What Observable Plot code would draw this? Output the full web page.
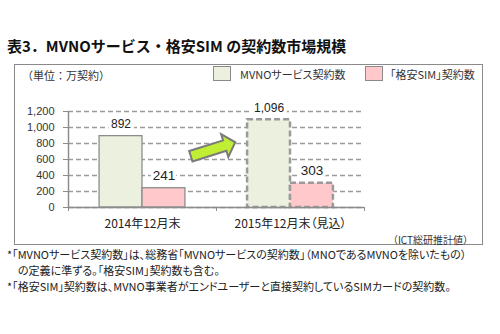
<!DOCTYPE html>
<html>
<head>
<meta charset="utf-8">
<script src="https://cdn.jsdelivr.net/npm/d3@7"></script>
<script src="https://cdn.jsdelivr.net/npm/@observablehq/plot@0.6"></script>
<style>
  body {
    margin: 0;
    width: 500px;
    height: 334px;
    position: relative;
    overflow: hidden;
    background: #fff;
    color: #222;
    font-family: "Noto Sans CJK JP", "Noto Sans", sans-serif;
    font-feature-settings: "palt";
  }
  .abs { position: absolute; white-space: nowrap; }
  #title { left: 7px; top: 36px; font-size: 15px; font-weight: bold; line-height: 20px; color: #111; font-feature-settings: normal; }
  #frame { left: 14px; top: 64px; width: 467px; height: 179px; border: 1.5px solid #8a8a8a; }
  #unit { left: 22px; top: 67px; font-size: 11px; line-height: 16px; color: #333; font-feature-settings: normal; }
  .swatch { width: 16px; height: 13px; border: 1.5px solid #8a8a8a; top: 66px; }
  .legend-text { top: 66px; font-size: 11px; line-height: 16px; color: #333; }
  #chart { left: 0; top: 88px; }
  #source { right: 27px; top: 232px; font-size: 10px; line-height: 16px; color: #333; font-feature-settings: normal; }
  #notes { left: 7px; top: 246px; font-size: 11px; line-height: 16px; color: #222; }
</style>
</head>
<body>
<div id="title" class="abs"></div>
<div id="frame" class="abs"></div>
<div id="unit" class="abs"></div>
<div id="legend"></div>
<div id="chart" class="abs"></div>
<div id="source" class="abs"></div>
<div id="notes" class="abs"></div>
<script>
// Contract counts (10k contracts), end of each year
const years = ["2014年12月末", "2015年12月末（見込）"];
const estimated = [false, true];
const seriesNames = ["MVNOサービス契約数", "「格安SIM」契約数"];
const mvnoContracts = [892, 1096];
const cheapSimContracts = [241, 303];
const yTicks = [0, 200, 400, 600, 800, 1000, 1200];
const seriesColors = ["#ebf1de", "#ffc9cc"];

const titleText = "表3．MVNOサービス・格安SIM の契約数市場規模";
const unitText = "（単位：万契約）";
const sourceText = "（ICT総研推計値）";
const noteLines = [
  "*「MVNOサービス契約数」は、総務省「MVNOサービスの契約数」（MNOであるMVNOを除いたもの）",
  "\u3000の定義に準ずる。「格安SIM」契約数も含む。",
  "*「格安SIM」契約数は、MVNO事業者がエンドユーザーと直接契約しているSIMカードの契約数。"
];

// Growth arrow between the two years: position inside each year band and value
const growth = {
  from: {year: years[0], at: 0.83, value: 634},
  to: {year: years[1], at: 0.13, value: 809}
};

const rows = years.flatMap((year, i) => [
  {year, series: seriesNames[0], value: mvnoContracts[i], estimated: estimated[i]},
  {year, series: seriesNames[1], value: cheapSimContracts[i], estimated: estimated[i]}
]);

// Static text
document.getElementById("title").textContent = titleText;
document.getElementById("unit").textContent = unitText;
document.getElementById("source").textContent = sourceText;
document.getElementById("notes").innerHTML = noteLines.map(l => `<div>${l}</div>`).join("");

const legend = document.getElementById("legend");
const legendX = [[213, 240], [365, 390]];
seriesNames.forEach((name, i) => {
  const sw = document.createElement("div");
  sw.className = "abs swatch";
  sw.style.left = legendX[i][0] + "px";
  sw.style.background = seriesColors[i];
  legend.appendChild(sw);
  const tx = document.createElement("div");
  tx.className = "abs legend-text";
  tx.style.left = legendX[i][1] + "px";
  tx.textContent = name;
  legend.appendChild(tx);
});

// Layout of the grouped bars inside each year band
const W = 380, H = 150, ML = 68, MR = 16, MT = 23, MB = 31;
const step = (W - ML - MR) / years.length;
const outer = step * 0.21;
const barW = step * 0.29;
const barOffset = [
  {insetLeft: outer, insetRight: step - outer - barW},
  {insetLeft: outer + barW, insetRight: outer}
];
const labelDx = [outer + barW / 2 - step / 2, outer + barW * 1.5 - step / 2];
const labelStyle = [{fontSize: 12, dy: -12}, {fontSize: 13.5, dy: -13}];

const barMarks = [];
seriesNames.forEach((name, i) => {
  for (const est of [false, true]) {
    barMarks.push(Plot.barY(rows.filter(d => d.series === name && d.estimated === est), {
      x: "year",
      y: "value",
      fill: seriesColors[i],
      stroke: est ? "#9a9a9a" : "#8c8c8c",
      strokeWidth: est ? 2.5 : 1.3,
      strokeDasharray: est ? "6,3" : null,
      ...barOffset[i]
    }));
  }
});

const labelMarks = seriesNames.map((name, i) =>
  Plot.text(rows.filter(d => d.series === name), {
    x: "year",
    y: "value",
    text: d => d3.format(",")(d.value),
    dx: labelDx[i],
    dy: labelStyle[i].dy,
    fontSize: labelStyle[i].fontSize,
    fill: "#222",
    stroke: "white",
    strokeWidth: 7
  })
);

// Chunky filled arrow drawn from the scales
function growthArrow(index, scales) {
  const {x, y} = scales;
  const bw = typeof x.bandwidth === "function" ? x.bandwidth() : x.bandwidth;
  const x0 = x(growth.from.year) + bw * growth.from.at, y0 = y(growth.from.value);
  const x1 = x(growth.to.year) + bw * growth.to.at, y1 = y(growth.to.value);
  const L = Math.hypot(x1 - x0, y1 - y0);
  const angle = Math.atan2(y1 - y0, x1 - x0) * 180 / Math.PI;
  const w = 5.5, hw = 12, hl = 11;
  const pts = [[0, -w], [L - hl, -w], [L - hl, -hw], [L, 0], [L - hl, hw], [L - hl, w], [0, w]];
  return d3.create("svg:path")
    .attr("d", "M" + pts.map(p => p.join(",")).join("L") + "Z")
    .attr("transform", `translate(${x0},${y0}) rotate(${angle})`)
    .attr("fill", "#bfee35")
    .attr("stroke", "#7a7a7a")
    .attr("stroke-width", 2)
    .attr("stroke-linejoin", "miter")
    .node();
}

const chart = Plot.plot({
  width: W,
  height: H,
  marginLeft: ML,
  marginRight: MR,
  marginTop: MT,
  marginBottom: MB,
  style: {fontFamily: '"Liberation Sans", "Noto Sans CJK JP", sans-serif', fontSize: "11px", color: "#333", background: "transparent"},
  x: {domain: years, padding: 0, label: null},
  y: {domain: [0, 1200], label: null},
  marks: [
    Plot.gridY(yTicks, {stroke: "#9c9c9c", strokeOpacity: 1, strokeWidth: 1.5, strokeDasharray: "5,3"}),
    ...barMarks,
    Plot.ruleY([0], {stroke: "#8c8c8c", strokeWidth: 1.5}),
    Plot.ruleX([years[0]], {dx: -step / 2, y1: 0, y2: 1200, stroke: "#8c8c8c", strokeWidth: 1.5}),
    Plot.axisY(yTicks, {tickSize: 5, tickPadding: 9, tickFormat: d3.format(","), stroke: "#8c8c8c", fill: "#333", fontSize: 11}),
    Plot.axisX(years, {tickSize: 4, text: null, dx: -step / 2, stroke: "#8c8c8c"}),
    Plot.axisX([years[years.length - 1]], {tickSize: 4, text: null, dx: step / 2, stroke: "#8c8c8c"}),
    Plot.axisX(years, {tickSize: 0, tickPadding: 12, fontSize: 12, fill: "#222", fontFamily: '"Noto Sans CJK JP", sans-serif', label: null}),
    growthArrow,
    ...labelMarks
  ]
});
document.getElementById("chart").appendChild(chart);
</script>
</body>
</html>
